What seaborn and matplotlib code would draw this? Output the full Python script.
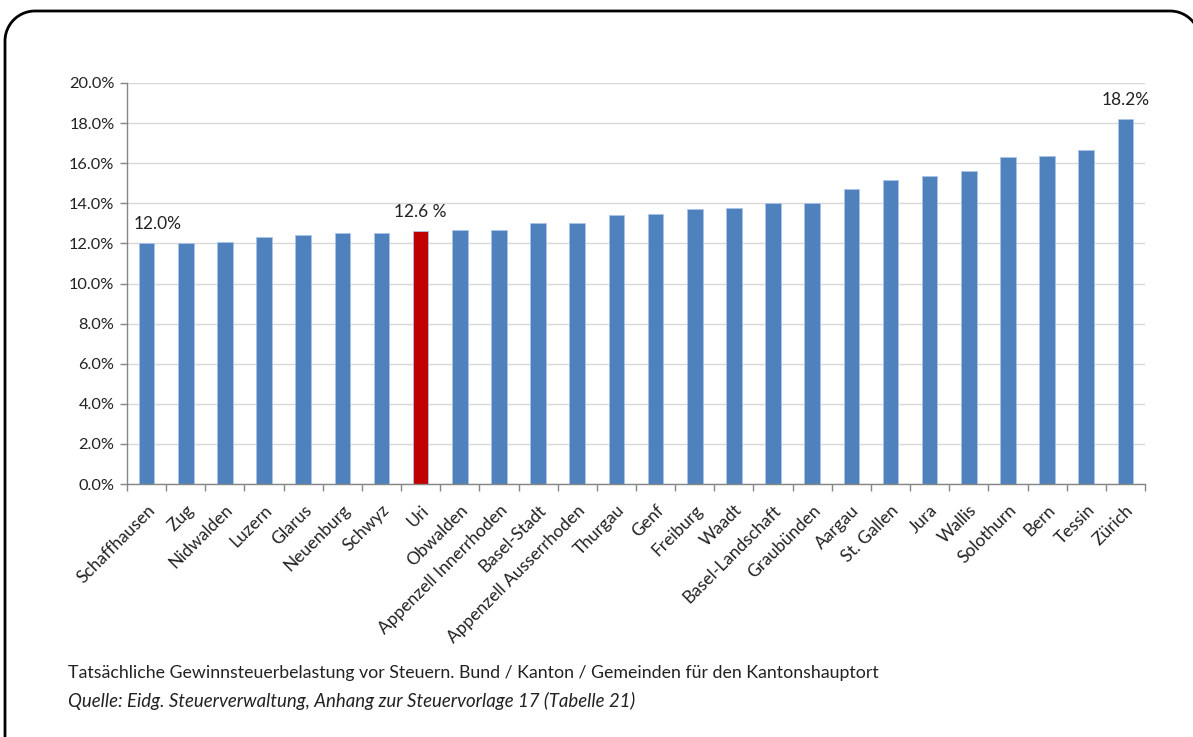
import numpy as np
import matplotlib
matplotlib.use("Agg")
import matplotlib.pyplot as plt
from matplotlib.ticker import FixedLocator, PercentFormatter
import seaborn as sns

# Effective profit tax burden per canton (capital city), in percent
cantons = ["Schaffhausen", "Zug", "Nidwalden", "Luzern", "Glarus", "Neuenburg",
           "Schwyz", "Uri", "Obwalden", "Appenzell Innerrhoden", "Basel-Stadt",
           "Appenzell Ausserrhoden", "Thurgau", "Genf", "Freiburg", "Waadt",
           "Basel-Landschaft", "Graubünden", "Aargau", "St. Gallen", "Jura",
           "Wallis", "Solothurn", "Bern", "Tessin", "Zürich"]
burden = [12.0, 12.0, 12.05, 12.3, 12.4, 12.5, 12.5, 12.6, 12.65, 12.65, 13.0,
          13.0, 13.4, 13.45, 13.7, 13.75, 14.0, 14.0, 14.7, 15.15, 15.35, 15.6,
          16.3, 16.35, 16.65, 18.2]
highlight = "Uri"
labelled = {"Schaffhausen": "12.0%", "Uri": "12.6 %", "Zürich": "18.2%"}
y_ticks = [0, 2, 4, 6, 8, 10, 12, 14, 16, 18, 20]

sns.set_theme(style="white")
plt.rcParams["font.family"] = ["Lato", "DejaVu Sans"]

W, H = 1193, 737
fig = plt.figure(figsize=(W / 100, H / 100), dpi=100)

# background axes in pixel units, used for the rounded frame
bg = fig.add_axes([0, 0, 1, 1])
bg.set_xlim(0, W)
bg.set_ylim(H, 0)
bg.axis("off")


def rounded_outline(x0, x1, y_top, y_end, r):
    """Open outline: left side, two rounded top corners, right side."""
    t1 = np.linspace(np.pi, 1.5 * np.pi, 30)
    t2 = np.linspace(1.5 * np.pi, 2 * np.pi, 30)
    xs = np.concatenate([[x0], x0 + r + r * np.cos(t1),
                         x1 - r + r * np.cos(t2), [x1]])
    ys = np.concatenate([[y_end], y_top + r + r * np.sin(t1),
                         y_top + r + r * np.sin(t2), [y_end]])
    return xs, ys


fx, fy = rounded_outline(5, 1200, 11, 800, 30)
bg.plot(fx, fy, color="black", linewidth=2, solid_capstyle="round", clip_on=False)

# plot area in pixel coordinates
left, right, top, bottom = 127, 1145, 83, 484
ax = fig.add_axes([left / W, 1 - bottom / H, (right - left) / W, (bottom - top) / H])

blue, red = "#4F81BD", "#C00000"
palette = {c: (red if c == highlight else blue) for c in cantons}
sns.barplot(x=cantons, y=burden, hue=cantons, palette=palette, legend=False,
            width=0.4, saturation=1, edgecolor="#A9C4E8", linewidth=0.6, ax=ax)

ax.set_xlim(-0.5, len(cantons) - 0.5)
ax.set_ylim(0, 20)
ax.yaxis.set_major_locator(FixedLocator(y_ticks))
ax.yaxis.set_major_formatter(PercentFormatter(decimals=1))
ax.grid(axis="y", color="#D9D9D9", linewidth=1)
ax.set_axisbelow(True)

for side in ["top", "right"]:
    ax.spines[side].set_visible(False)
for side in ["left", "bottom"]:
    ax.spines[side].set_color("#868686")
    ax.spines[side].set_linewidth(1)

ax.tick_params(axis="y", which="major", direction="out", length=5, width=1,
               color="#868686", labelsize=11.8, labelcolor="#222222", pad=4, left=True)
ax.set_xticks(range(len(cantons)))
ax.set_xticklabels(cantons, rotation=45, ha="right", rotation_mode="anchor",
                   fontsize=12.5, color="#222222")
ax.tick_params(axis="x", which="major", length=0, pad=13)
ax.set_xticks(np.arange(-0.5, len(cantons), 1), minor=True)
ax.tick_params(axis="x", which="minor", direction="out", length=5, width=1,
               color="#868686", bottom=True)
ax.set_xlabel("")
ax.set_ylabel("")

# value labels
shift = {"Schaffhausen": 8}
for i, (c, v) in enumerate(zip(cantons, burden)):
    if c in labelled:
        ax.annotate(labelled[c], (i, v), xytext=(shift.get(c, 0), 8),
                    textcoords="offset points", ha="center", va="bottom",
                    fontsize=12.5, color="#222222")

# caption
fig.text(68 / W, 1 - 673 / H,
         "Tatsächliche Gewinnsteuerbelastung vor Steuern. Bund / Kanton / Gemeinden für den Kantonshauptort",
         fontsize=12.8, color="#222222", va="center", ha="left")
fig.text(68 / W, 1 - 701 / H,
         "Quelle: Eidg. Steuerverwaltung, Anhang zur Steuervorlage 17 (Tabelle 21)",
         fontsize=13.4, color="#222222", va="center", ha="left", style="italic")

fig.savefig("out.png", dpi=100)
